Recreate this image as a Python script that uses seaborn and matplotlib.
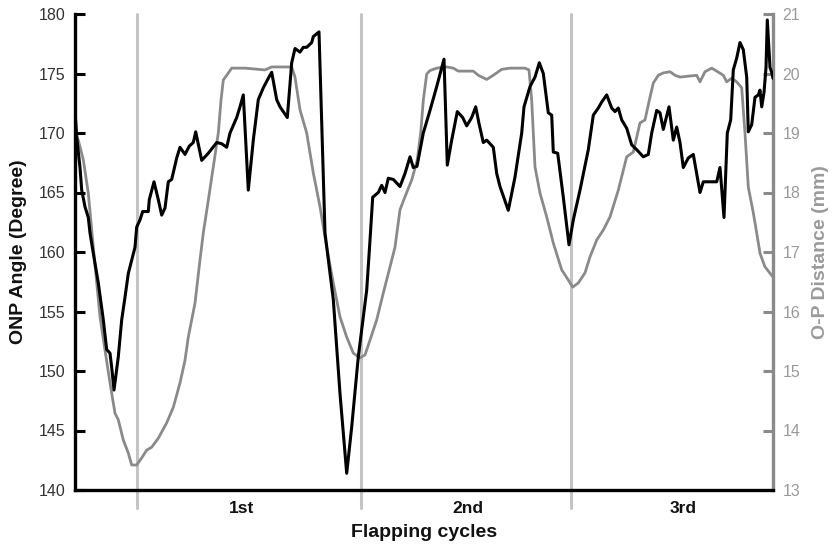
import matplotlib
matplotlib.use("Agg")
import matplotlib.pyplot as plt
import seaborn as sns
import pandas as pd

# ---- data ----
onp_frame = [0, 2, 5, 6.7, 10, 13.3, 15, 18.3, 23.3, 28.3, 31.7, 35, 36.7, 39, 43.3, 46.7, 50, 53.3,
             56.7, 60, 61.7, 65, 67.7, 73.3, 74.3, 79, 83.3, 86.7, 90, 93.3, 96.7, 101.7, 105, 110,
             114.3, 118.3, 120.7, 126.7, 133.3, 141.7, 146.7, 151.7, 155, 161.7, 165, 168.3, 173.3,
             178.3, 183.3, 188.3, 193.3, 196.7, 201.7, 205, 212.3, 216.7, 220, 225, 228.3, 231.7,
             236.7, 238.3, 244, 250, 258.3, 265, 271.7, 276.7, 283.3, 291.7, 295, 297.7, 303.3,
             306.7, 310, 313.3, 318.3, 325, 330, 335, 338.3, 342, 348.3, 355, 361.7, 369, 372.3,
             376.7, 382.3, 387.7, 391.7, 396.7, 400.7, 404, 408.3, 411.7, 418.3, 421.7, 425, 433.3,
             440, 446.7, 449, 455, 460, 464.3, 468.3, 473.3, 476.7, 478.3, 482.7, 488.3, 494,
             498.3, 505, 513.3, 518.3, 523.3, 526.7, 531.7, 536.7, 540, 543.3, 546.7, 551.7, 556.7,
             561.7, 568.3, 573.3, 576.7, 581.7, 585, 588.3, 594, 598.3, 601.7, 605, 608.3, 613.3,
             618.3, 621.7, 625, 628.3, 641.7, 645, 649, 652.3, 655.7, 658.3, 661.7, 665, 668.3,
             671.7, 673.3, 676.7, 680, 683.3, 685, 686.7, 689, 691, 692.3, 695, 696.7, 698]
onp_angle = [171.8, 169.4, 167.1, 165.2, 163.8, 162.9, 161.6, 159.9, 157.4, 154.3, 151.8, 151.5, 150.3,
             148.4, 151.2, 154.3, 156.2, 158.2, 159.3, 160.4, 162.1, 162.7, 163.4, 163.4, 164.4,
             165.9, 164.4, 163.1, 163.7, 165.9, 166.1, 167.9, 168.8, 168.2, 168.9, 169.2, 170.1,
             167.7, 168.3, 169.2, 169.1, 168.8, 170.0, 171.3, 172.2, 173.2, 165.2, 169.4, 172.8,
             173.8, 174.6, 175.1, 172.8, 172.2, 171.3, 175.9, 177.1, 176.8, 177.2, 177.2, 177.6,
             178.1, 178.5, 161.6, 156.0, 148.1, 141.4, 145.3, 151.2, 156.8, 161.0, 164.6, 165.0,
             165.6, 165.0, 166.2, 166.1, 165.5, 166.6, 168.0, 167.1, 167.2, 170.0, 171.9, 173.9,
             176.2, 167.3, 169.4, 171.8, 171.3, 170.6, 171.3, 172.2, 170.8, 169.2, 169.4, 168.8,
             166.6, 165.5, 163.5, 166.3, 170.0, 172.2, 173.9, 174.7, 175.9, 175.0, 171.7, 171.5,
             168.4, 168.3, 164.6, 160.6, 162.7, 165.2, 168.6, 171.5, 172.1, 172.6, 173.2, 172.1,
             171.8, 172.1, 171.1, 170.4, 169.0, 168.6, 168.0, 168.2, 170.0, 171.9, 171.7, 170.3,
             172.2, 169.4, 170.5, 169.2, 167.1, 167.9, 168.2, 166.6, 165.0, 165.9, 165.9, 167.1,
             162.9, 170.0, 171.1, 175.3, 176.3, 177.6, 177.0, 174.7, 170.1, 170.7, 173.0, 173.2,
             173.6, 172.2, 173.4, 175.5, 179.5, 175.5, 175.1, 174.6]

op_frame = [0, 3.3, 8.3, 13.3, 18.3, 25, 30, 35, 40, 43.3, 48.3, 53.3, 56.7, 61.7, 66.7, 71.7, 76.7,
            83.3, 91.7, 98.3, 105, 110, 113.3, 120, 125, 128.3, 133.3, 138.3, 143.3, 146, 148.3,
            151.7, 156.7, 170, 190, 196.7, 216.7, 220, 225, 231.7, 238.3, 245, 251.7, 258.3, 265,
            271.7, 278.3, 285, 290, 295, 301.7, 308.3, 315, 320, 325, 330, 336.7, 342.3, 345.7,
            348.3, 351.7, 355, 361.7, 371.7, 378.3, 383.3, 398.3, 403.3, 411.7, 418.3, 426.7, 435,
            450, 454, 456.7, 460, 465, 471.7, 478.3, 486.7, 493.3, 497.7, 503.3, 510, 515, 521.7,
            528.3, 535, 543.3, 551.7, 558.3, 565, 570, 574.3, 578.3, 583.3, 588.3, 595, 600, 605,
            621.7, 625, 630, 636.7, 641.7, 648.3, 651.7, 656.7, 661.7, 666.7, 670, 673.3, 678.3,
            681.7, 685, 690, 698]
op_dist = [19.0, 18.88, 18.55, 17.99, 17.08, 15.91, 15.35, 14.80, 14.29, 14.18, 13.84, 13.62, 13.42,
           13.42, 13.54, 13.67, 13.72, 13.87, 14.13, 14.39, 14.80, 15.18, 15.57, 16.14, 16.87,
           17.32, 17.87, 18.43, 19.0, 19.55, 19.89, 19.97, 20.09, 20.09, 20.06, 20.11, 20.11,
           19.94, 19.39, 19.0, 18.33, 17.76, 17.08, 16.48, 15.91, 15.57, 15.30, 15.22, 15.27,
           15.52, 15.86, 16.31, 16.75, 17.08, 17.71, 17.93, 18.21, 18.55, 19.0, 19.55, 19.99,
           20.05, 20.09, 20.11, 20.09, 20.04, 20.04, 19.97, 19.90, 19.97, 20.07, 20.09, 20.09,
           20.06, 19.55, 18.43, 17.99, 17.59, 17.15, 16.70, 16.53, 16.41, 16.48, 16.65, 16.92,
           17.20, 17.37, 17.59, 18.04, 18.60, 18.68, 19.17, 19.22, 19.55, 19.84, 19.97, 20.01,
           20.03, 19.97, 19.94, 19.97, 19.86, 20.03, 20.09, 20.04, 19.97, 19.86, 19.92, 19.86,
           19.76, 19.0, 18.09, 17.66, 17.32, 16.98, 16.75, 16.58]

cycle_bounds = [62, 286, 496]
cycle_label_pos = [167, 393, 608]
cycle_labels = ["1st", "2nd", "3rd"]
x_range = [0, 698]
angle_range = [140, 180]
angle_ticks = [140, 145, 150, 155, 160, 165, 170, 175, 180]
dist_range = [13, 21]
dist_ticks = [13, 14, 15, 16, 17, 18, 19, 20, 21]

# ---- style ----
sns.set_style("white")
plt.rcParams['font.family'] = ['Liberation Sans', 'DejaVu Sans']

BLACK = "#000000"
GRAY = "#8a8a8a"
GRAY_TXT = "#9a9a9a"
VLINE = "#c4c4c4"

fig = plt.figure(figsize=(8.32, 5.44), dpi=100)
ax = fig.add_axes([75 / 832, 1 - 490 / 544, (773 - 75) / 832, (490 - 14) / 544])
ax2 = ax.twinx()

df_onp = pd.DataFrame({"frame": onp_frame, "angle": onp_angle})
df_op = pd.DataFrame({"frame": op_frame, "dist": op_dist})

# gray line (right axis)
sns.lineplot(data=df_op, x="frame", y="dist", ax=ax2, color=GRAY, linewidth=2.0,
             estimator=None, sort=False, zorder=3)
for b in cycle_bounds:
    ax2.axvline(b, ymin=-0.038, ymax=1.0, color=VLINE, linewidth=2.2, clip_on=False, zorder=1)

# black line (left axis) on top
sns.lineplot(data=df_onp, x="frame", y="angle", ax=ax, color=BLACK, linewidth=2.2,
             estimator=None, sort=False, zorder=4)
ax.set_zorder(ax2.get_zorder() + 1)
ax.patch.set_visible(False)

ax.set_xlim(*x_range)
ax.set_ylim(*angle_range)
ax2.set_ylim(*dist_range)

ax.set_yticks(angle_ticks)
ax2.set_yticks(dist_ticks)
ax.set_xticks(cycle_label_pos)
ax.set_xticklabels(cycle_labels, fontweight="bold", fontsize=12.5)
ax.tick_params(axis="x", length=0, pad=8, colors="#111111")
ax.tick_params(axis="y", direction="in", length=7, width=2.2, color=BLACK,
               labelsize=11.5, labelcolor="#333333", pad=7)
ax2.tick_params(axis="y", direction="in", length=7, width=2.2, color=GRAY,
                labelsize=11.5, labelcolor=GRAY_TXT, pad=7)

for s in ["top", "right"]:
    ax.spines[s].set_visible(False)
ax.spines["left"].set_color(BLACK)
ax.spines["left"].set_linewidth(2.4)
ax.spines["bottom"].set_color(BLACK)
ax.spines["bottom"].set_linewidth(2.4)
for s in ["top", "left", "bottom"]:
    ax2.spines[s].set_visible(False)
ax2.spines["right"].set_color(GRAY)
ax2.spines["right"].set_linewidth(2.4)

ax.set_xlabel("Flapping cycles", fontsize=14, fontweight="bold", color="#111111", labelpad=6)
ax.set_ylabel("ONP Angle (Degree)", fontsize=14, fontweight="bold", color="#111111", labelpad=8)
ax2.set_ylabel("O-P Distance (mm)", fontsize=14, fontweight="bold", color=GRAY_TXT, labelpad=8)

fig.savefig("out.png", dpi=100)
